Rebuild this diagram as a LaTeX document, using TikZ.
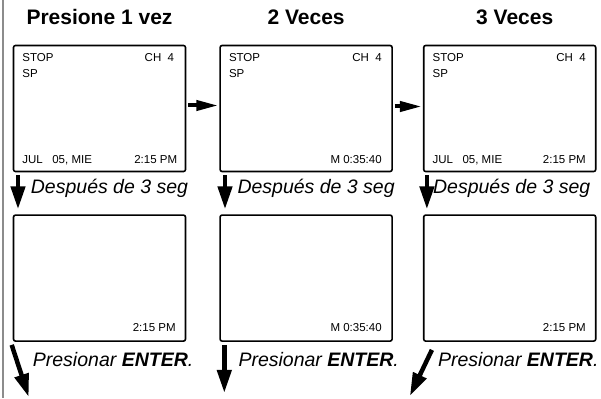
\documentclass[tikz,border=0pt]{standalone}
\usepackage{fontspec}
\setmainfont{Liberation Sans}
\usepackage{tikz}
\usetikzlibrary{arrows.meta,positioning}
\tikzset{pantalla/.style={rectangle, draw, line width=1.6pt, rounded corners=2pt, minimum width=172pt,
 minimum height=126pt, inner sep=0pt}}
\tikzset{lcd/.style={inner sep=0pt, text depth=0pt, font=\fontsize{11.5}{13}\selectfont}}
\tikzset{titulo/.style={inner sep=0pt, text depth=0pt, font=\fontsize{21}{25}\selectfont\bfseries}}
\tikzset{aviso/.style={inner sep=0pt, text depth=0pt, font=\fontsize{19.5}{23}\selectfont\itshape}}
\tikzset{flecha/.style={draw, line width=4.5pt, -{Triangle[length=23pt,width=14pt]}}}
\tikzset{flechita/.style={draw, line width=4pt, -{Triangle[length=22pt,width=10pt]}}}

\begin{document}
\begin{tikzpicture}[x=1pt, y=-1pt]
        \useasboundingbox (0,0) rectangle (601,398);
        \draw[black!45, line width=1.5pt] (3,0) -- (3,398);

        \node[pantalla] (scr1) at (99.5,108.5) {};
        \node[pantalla, right=33pt of scr1] (scr2) {};
        \node[pantalla, right=30pt of scr2] (scr3) {};
        \node[pantalla, below=42pt of scr1] (scr4) {};
        \node[pantalla, below=42pt of scr2] (scr5) {};
        \node[pantalla, below=42pt of scr3] (scr6) {};

        \node[titulo, above=20pt of scr1] (tit1) {Presione 1 vez};
        \node[titulo, above=20pt of scr2] (tit2) {2 Veces};
        \node[titulo, above=20pt of scr3, xshift=5pt] (tit3) {3 Veces};

        \node[lcd, below right=9pt and 9.5pt of scr1.north west] (stop1) {STOP};
        \node[lcd, below right=7pt and 0pt of stop1.south west] (sp1) {SP};
        \node[lcd, below left=9pt and 12pt of scr1.north east] (ch1) {CH\ \ 4};
        \node[lcd, above right=9pt and 9.5pt of scr1.south west] (fecha1) {JUL\hspace{9.5pt}05, MIE};
        \node[lcd, above left=9pt and 9pt of scr1.south east] (hora1) {2:15 PM};

        \node[lcd, below right=9pt and 9.5pt of scr2.north west] (stop2) {STOP};
        \node[lcd, below right=7pt and 0pt of stop2.south west] (sp2) {SP};
        \node[lcd, below left=9pt and 11pt of scr2.north east] (ch2) {CH\ \ 4};
        \node[lcd, above left=9pt and 11pt of scr2.south east] (cont2) {M 0:35:40};

        \node[lcd, below right=9pt and 9.5pt of scr3.north west] (stop3) {STOP};
        \node[lcd, below right=7pt and 0pt of stop3.south west] (sp3) {SP};
        \node[lcd, below left=9pt and 10.5pt of scr3.north east] (ch3) {CH\ \ 4};
        \node[lcd, above right=9pt and 9.5pt of scr3.south west] (fecha3) {JUL\hspace{9.5pt}05, MIE};
        \node[lcd, above left=9pt and 10.5pt of scr3.south east] (hora3) {2:15 PM};

        \node[lcd, above left=10.5pt and 10.5pt of scr4.south east] (hora4) {2:15 PM};
        \node[lcd, above left=10.5pt and 11pt of scr5.south east] (cont5) {M 0:35:40};
        \node[lcd, above left=10.5pt and 10.5pt of scr6.south east] (hora6) {2:15 PM};

        \node[aviso, anchor=base west] (desp1) at ([xshift=18pt, yshift=-21pt]scr1.south west) {Después de 3 seg};
        \node[aviso, anchor=base west] (desp2) at ([xshift=18pt, yshift=-21pt]scr2.south west) {Después de 3 seg};
        \node[aviso, anchor=base west] (desp3) at ([xshift=10pt, yshift=-21pt]scr3.south west) {Después de 3 seg};

        \node[aviso, anchor=base west] (pres1) at ([xshift=20pt, yshift=-24.5pt]scr4.south west) {Presionar \textbf{ENTER}.};
        \node[aviso, anchor=base west] (pres2) at ([xshift=19pt, yshift=-24.5pt]scr5.south west) {Presionar \textbf{ENTER}.};
        \node[aviso, anchor=base west] (pres3) at ([xshift=15pt, yshift=-24.5pt]scr6.south west) {Presionar \textbf{ENTER}.};

        \path[flechita, shorten <=2pt, shorten >=1pt] ([yshift=3pt]scr1.east) -- ([yshift=3pt]scr2.west);
        \path[flechita, shorten <=2pt, shorten >=1pt] ([yshift=2pt]scr2.east) -- ([yshift=2pt]scr3.west);

        \path[flecha, shorten <=3pt, shorten >=5pt] ([xshift=5.3pt]scr1.south west) -- ([xshift=5.3pt]scr4.north west);
        \path[flecha, shorten <=3pt, shorten >=5pt] ([xshift=5.7pt]scr2.south west) -- ([xshift=5.7pt]scr5.north west);
        \path[flecha, shorten <=3pt, shorten >=5pt] ([xshift=4pt]scr3.south west) -- ([xshift=4pt]scr6.north west);

        \coordinate[below right=55pt and 16pt of scr4.south west] (fin1);
        \coordinate[below right=51pt and 5pt of scr5.south west] (fin2);
        \coordinate[below left=54pt and 13pt of scr6.south west] (fin3);
        \path[flecha] ([shift={(-1pt,-3pt)}]scr4.south west) -- (fin1);
        \path[flecha] ([shift={(5pt,-3pt)}]scr5.south west) -- (fin2);
        \path[flecha] ([shift={(9pt,-8pt)}]scr6.south west) -- (fin3);
      \end{tikzpicture}
\end{document}
